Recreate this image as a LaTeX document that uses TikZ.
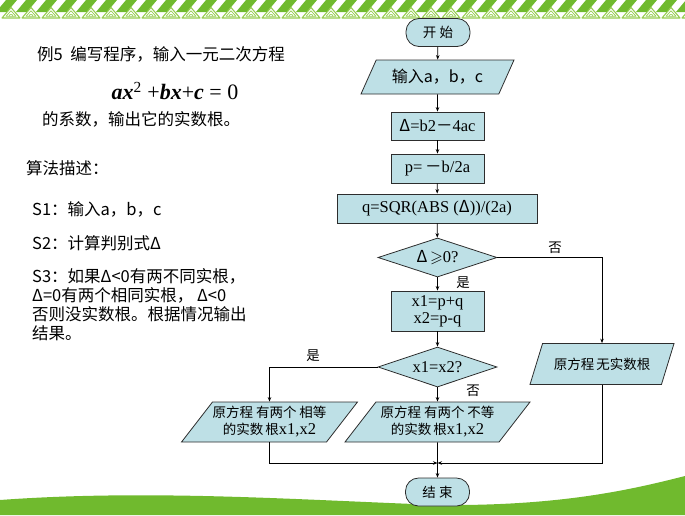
\documentclass[tikz,border=0pt]{standalone}
\usepackage{fontspec}
\usepackage{amssymb}
\setmainfont{Liberation Serif}
\newfontfamily\cjk{Noto Sans CJK SC}
\usetikzlibrary{shapes.geometric,arrows.meta}

\definecolor{leaf}{RGB}{112,186,46}
\definecolor{leaflight}{RGB}{150,205,80}
\definecolor{boxfill}{RGB}{190,224,230}
\definecolor{boxline}{RGB}{45,45,45}

\tikzset{
  base/.style={draw=boxline, fill=boxfill, line width=0.8pt, inner sep=0pt, align=center,
    font=\fontsize{16.5}{17}\selectfont},
  procbox/.style={base, rectangle},
  iobox/.style={base, trapezium, trapezium left angle=45, trapezium right angle=135,
    trapezium stretches body},
  termbox/.style={base, rectangle, rounded corners=13pt, minimum width=64pt, minimum height=28pt},
  testbox/.style={base, diamond, aspect=3, minimum width=119pt, minimum height=39pt},
  flow/.style={-{Stealth[length=4.5pt,width=3.5pt]}, line width=0.8pt},
  lefttxt/.style={anchor=west, inner sep=0pt, align=left, font=\cjk\fontsize{16.5}{19}\selectfont},
  branch/.style={inner sep=0pt, font=\cjk\fontsize{13.5}{15}\selectfont},
  boxcjk/.style={font=\cjk\fontsize{13.5}{17}\selectfont},
}

\begin{document}
\begin{tikzpicture}[x=1pt, y=-1pt]
\useasboundingbox (0,0) rectangle (685,515);

% decorative border along the top
\begin{scope}
  \clip (0,0) rectangle (685,20);
  \foreach \i in {0,...,35}{
    \fill[leaf] (20*\i-4,12) -- (20*\i+7,12) -- (20*\i+17,0) -- (20*\i+6,0) -- cycle;
  }
  \foreach \i in {0,...,35}{
    \draw[leaflight, fill=white, line width=1.1pt, line join=round]
      (20*\i+2,18) -- (20*\i+11,7.5) -- (20*\i+20,18) -- cycle;
    \draw[leaflight, line width=0.7pt, line join=round]
      (20*\i+6,16.3) -- (20*\i+11,10.8) -- (20*\i+16,16.3) -- cycle;
    \draw[leaflight, line width=0.6pt] (20*\i+9,16.3) arc[start angle=180, end angle=360, radius=2];
  }
\end{scope}

% green hill along the bottom
\fill[leaf] (0,515) -- (0,500) .. controls (150,489) and (300,500) .. (440,505)
  .. controls (560,506) and (630,490) .. (685,476) -- (685,515) -- cycle;

% problem statement and algorithm outline
\node[lefttxt] (title) at (37,54) {例5\ \ 编写程序，输入一元二次方程};
\node[inner sep=0pt, font=\fontsize{22}{24}\selectfont] (eqn) at (175,91)
  {{\bfseries\itshape ax}\textsuperscript{2} +{\bfseries\itshape bx}+{\bfseries\itshape c} = 0};
\node[lefttxt] (coef) at (42,119) {的系数，输出它的实数根。};
\node[lefttxt] (algo) at (26,168) {算法描述：};
\node[lefttxt] (s1) at (32,209) {S1：输入a，b，c};
\node[lefttxt] (s2) at (32,243) {S2：计算判别式Δ};
\node[lefttxt, anchor=north west] (s3) at (32,268)
  {S3：如果Δ<0有两不同实根，\\Δ=0有两个相同实根， Δ<0\\否则没实数根。根据情况输出\\结果。};

% flowchart
\node[termbox] (start) at (438,32.5) {\cjk\fontsize{13.5}{15}\selectfont 开 始};
\node[iobox, minimum width=153pt, minimum height=34pt] (in) at (437.5,77)
  {\cjk\fontsize{16}{17}\selectfont 输入a，b，c};
\node[procbox, minimum width=93pt, minimum height=28pt] (delta) at (437.5,126)
  {{\cjk Δ}=b2{\cjk －}4ac};
\node[procbox, minimum width=93pt, minimum height=29pt] (p) at (437.5,168.5)
  {p=\,{\cjk －}b/2a};
\node[procbox, minimum width=200pt, minimum height=29pt] (q) at (437,208.5)
  {q=SQR(ABS ({\cjk Δ}))/(2a)};
\node[testbox] (d1) at (437.5,257.5) {{\cjk Δ}\,$\geqslant$0?};
\node[procbox, minimum width=93pt, minimum height=40pt] (x) at (437.5,311)
  {x1=p+q\\x2=p-q};
\node[testbox, minimum height=40pt] (d2) at (437.5,367) {x1=x2?};
\node[iobox, minimum width=144pt, minimum height=41pt] (none) at (602,364)
  {\cjk\fontsize{13.5}{15}\selectfont 原方程\hspace{2pt}无实数根};
\node[iobox, minimum width=175pt, minimum height=40pt] (eq) at (269.5,422)
  {{\cjk\fontsize{13.5}{15}\selectfont 原方程\hspace{3pt}有两个\hspace{3pt}相等}\\
   {\cjk\fontsize{13.5}{15}\selectfont 的实数\hspace{2pt}根}x1,x2};
\node[iobox, minimum width=185pt, minimum height=40pt] (neq) at (437.5,422)
  {{\cjk\fontsize{13.5}{15}\selectfont 原方程\hspace{3pt}有两个\hspace{3pt}不等}\\
   {\cjk\fontsize{13.5}{15}\selectfont 的实数\hspace{2pt}根}x1,x2};
\node[termbox] (stop) at (437.5,492) {\cjk\fontsize{13.5}{15}\selectfont 结 束};

\coordinate (merge) at (437.5,463);

% connectors
\draw[flow] (start) -- (in);
\draw[flow] (in) -- (delta);
\draw[flow] (delta) -- (p);
\draw[flow] (p) -- (q);
\draw[flow] (q) -- (d1);
\draw[flow] (d1) -- (x);
\draw[flow] (x) -- (d2);
\draw[flow] (d1.east) -| (none.north);
\draw[flow] (d2.west) -| (eq.north);
\draw[flow] (d2) -- (neq);
\draw[flow] (eq.south) |- (merge);
\draw[flow] (none.south) |- (merge);
\draw[flow] (neq) -- (stop);

% branch labels
\node[branch] (no1) at (555,248) {否};
\node[branch] (yes1) at (463,283) {是};
\node[branch] (yes2) at (313,356) {是};
\node[branch] (no2) at (473,391) {否};
\end{tikzpicture}
\end{document}
